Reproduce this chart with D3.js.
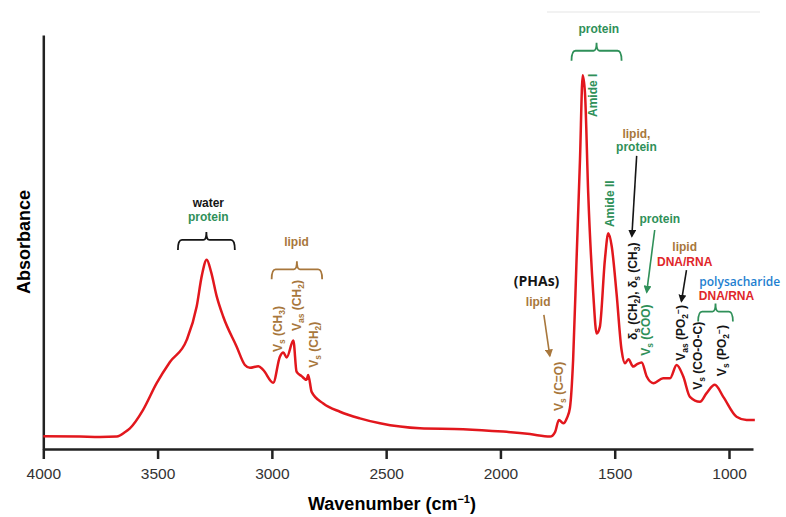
<html>
<script src="https://d3js.org/d3.v7.min.js"></script>
<style>
  body { margin: 0; background: #fff; }
  .tick text { font-family: "Liberation Sans", Arial, sans-serif; font-size: 15.5px; fill: #333; }
  .ann { font-family: "Liberation Sans", Arial, sans-serif; font-weight: bold; font-size: 12px; }
</style>
<body>
<script>
// FTIR spectrum (wavenumber in cm-1, absorbance in arbitrary units)
const wavenumbers = [4000, 3840, 3752, 3678, 3642, 3621, 3564, 3504, 3446, 3373, 3329, 3306, 3285, 3266, 3241, 3213,
  3154, 3118, 3096, 3059, 3038, 2994, 2965, 2950, 2935, 2906, 2892, 2870, 2848, 2841, 2826, 2775, 2702, 2615,
  2527, 2352, 2163, 1988, 1871, 1783, 1761, 1744, 1725, 1709, 1696, 1682, 1667, 1652, 1640, 1630, 1616, 1594,
  1579, 1565, 1543, 1528, 1513, 1492, 1470, 1455, 1440, 1419, 1402, 1382, 1360, 1331, 1288, 1258, 1229, 1200,
  1171, 1127, 1098, 1062, 1025, 967, 923, 887];
const absorbance = [0.031, 0.030, 0.029, 0.030, 0.041, 0.050, 0.094, 0.159, 0.210, 0.263, 0.344, 0.420, 0.457, 0.428, 0.368, 0.320,
  0.247, 0.203, 0.196, 0.200, 0.191, 0.160, 0.223, 0.233, 0.221, 0.262, 0.187, 0.176, 0.167, 0.179, 0.138, 0.110, 0.090, 0.074,
  0.062, 0.050, 0.048, 0.042, 0.036, 0.030, 0.041, 0.070, 0.062, 0.075, 0.099, 0.215, 0.457, 0.698, 0.903, 0.859, 0.618, 0.376,
  0.279, 0.295, 0.457, 0.521, 0.489, 0.376, 0.239, 0.207, 0.217, 0.199, 0.205, 0.209, 0.175, 0.159, 0.171, 0.171, 0.203, 0.175,
  0.126, 0.114, 0.135, 0.155, 0.126, 0.078, 0.070, 0.070];
const xTicks = [4000, 3500, 3000, 2500, 2000, 1500, 1000];

// annotations: wavenumber / absorbance anchor, "_" = subscript char, "^" = superscript char
const textLabels = [
  {t: "water", w: 3278, a: 0.585, c: "black"},
  {t: "protein", w: 3278, a: 0.551, c: "green"},
  {t: "lipid", w: 2892, a: 0.490, c: "brown"},
  {t: "(PHAs)", w: 1842, a: 0.394, c: "black", f: "phas"},
  {t: "lipid", w: 1835, a: 0.345, c: "brown"},
  {t: "protein", w: 1570, a: 1.005, c: "green"},
  {t: "lipid,", w: 1405, a: 0.752, c: "brown"},
  {t: "protein", w: 1405, a: 0.720, c: "green"},
  {t: "protein", w: 1303, a: 0.547, c: "green"},
  {t: "lipid", w: 1194, a: 0.478, c: "brown"},
  {t: "DNA/RNA", w: 1194, a: 0.443, c: "red"},
  {t: "polysacharide", w: 953, a: 0.394, c: "blue", f: "poly"},
  {t: "DNA/RNA", w: 1011, a: 0.359, c: "red"}
];
const bandLabels = [
  {t: "V_s (CH_3)", w: 2956, a: 0.234, c: "brown"},
  {t: "V_a_s (CH_2)", w: 2873, a: 0.285, c: "brown"},
  {t: "V_s (CH_2)", w: 2798, a: 0.196, c: "brown"},
  {t: "V_s (C=O)", w: 1727, a: 0.092, c: "brown"},
  {t: "Amide I", w: 1579, a: 0.802, c: "green"},
  {t: "Amide II", w: 1504, a: 0.536, c: "green"},
  {t: "δ_s (CH_2), δ_s (CH_3)", w: 1404, a: 0.263, c: "black"},
  {t: "V_s (COO)", w: 1347, a: 0.225, c: "green"},
  {t: "V_a_s (PO_2^−)", w: 1194, a: 0.213, c: "black"},
  {t: "V_s (CO-O-C)", w: 1119, a: 0.143, c: "black"},
  {t: "V_s (PO_2^−)", w: 1014, a: 0.176, c: "black"}
];
const brackets = [
  {w1: 3411, w2: 3162, a: 0.505, c: "black"},
  {w1: 3001, w2: 2780, a: 0.434, c: "brown"},
  {w1: 1689, w2: 1470, a: 0.962, c: "green"},
  {w1: 1135, w2: 983, a: 0.332, c: "green"}
];
const arrows = [
  {w1: 1810, a1: 0.324, w2: 1784, a2: 0.225, c: "brown"},
  {w1: 1404, a1: 0.708, w2: 1425, a2: 0.514, c: "black"},
  {w1: 1325, a1: 0.529, w2: 1360, a2: 0.379, c: "green"},
  {w1: 1186, a1: 0.432, w2: 1208, a2: 0.357, c: "black"}
];

const colors = {black: "#151515", green: "#2f9059", brown: "#a8773c", red: "#e0262a", blue: "#1e7fd0"};

let width = 786, height = 517;
let svg = d3.select("body").append("svg").attr("width", width).attr("height", height);

let x = d3.scaleLinear().domain([4000, 895]).range([43.3, 753]);
let y = d3.scaleLinear().domain([0, 1]).range([449, 35]);

// faint scan border at the top
svg.append("line").attr("x1", 547).attr("x2", 760).attr("y1", 12).attr("y2", 12)
  .attr("stroke", "#eeeeee").attr("stroke-width", 1.5);

// axes
let xAxis = d3.axisBottom(x).tickValues(xTicks).tickSize(10).tickPadding(9).tickSizeOuter(0).tickFormat(d3.format("d"));
let gx = svg.append("g").attr("transform", `translate(0,${y(0)})`).call(xAxis);
gx.select(".domain").attr("stroke", "#222").attr("stroke-width", 2.5);
gx.selectAll(".tick line").attr("stroke", "#222").attr("stroke-width", 2.5);

let gy = svg.append("g").attr("transform", `translate(${x(4000)},0)`)
  .call(d3.axisLeft(y).tickValues([]).tickSizeOuter(0));
gy.select(".domain").attr("stroke", "#222").attr("stroke-width", 2.5);

svg.append("text").attr("transform", `translate(24,${(y(0) + y(1)) / 2}) rotate(-90)`)
  .attr("text-anchor", "middle").attr("dy", "0.35em")
  .style("font-family", "Liberation Sans, Arial, sans-serif").style("font-weight", "bold").style("font-size", "18px")
  .text("Absorbance");

let xt = svg.append("text").attr("x", 392).attr("y", 510).attr("text-anchor", "middle")
  .style("font-family", "Liberation Sans, Arial, sans-serif").style("font-weight", "bold").style("font-size", "18px");
xt.append("tspan").text("Wavenumber (cm");
xt.append("tspan").attr("dy", -7).style("font-size", "11px").text("−1");
xt.append("tspan").attr("dy", 7).text(")");

// spectrum
let data = wavenumbers.map((w, i) => ({w: w, a: absorbance[i]}));
svg.append("path").datum(data)
  .attr("fill", "none").attr("stroke", "#e2171d").attr("stroke-width", 2.5).attr("stroke-linejoin", "round")
  .attr("d", d3.line().x(d => x(d.w)).y(d => y(d.a)).curve(d3.curveMonotoneX));

// arrow heads
let defs = svg.append("defs");
Object.keys(colors).forEach(k => {
  defs.append("marker").attr("id", "arr-" + k).attr("viewBox", "0 0 10 10").attr("refX", 8).attr("refY", 5)
    .attr("markerWidth", 8).attr("markerHeight", 8).attr("orient", "auto").attr("markerUnits", "userSpaceOnUse")
    .append("path").attr("d", "M0,0 L10,5 L0,10 Z").attr("fill", colors[k]);
});
arrows.forEach(d => {
  svg.append("line").attr("x1", x(d.w1)).attr("y1", y(d.a1)).attr("x2", x(d.w2)).attr("y2", y(d.a2))
    .attr("stroke", colors[d.c]).attr("stroke-width", 1.6).attr("marker-end", `url(#arr-${d.c})`);
});

// curly-ish brackets
brackets.forEach(d => {
  let x1 = x(d.w1), x2 = x(d.w2), yy = y(d.a), cx = (x1 + x2) / 2;
  let p = `M${x1},${yy + 10} Q${x1},${yy} ${x1 + 4},${yy} H${cx - 3} Q${cx},${yy} ${cx},${yy - 8}` +
          ` Q${cx},${yy} ${cx + 3},${yy} H${x2 - 4} Q${x2},${yy} ${x2},${yy + 10}`;
  svg.append("path").attr("d", p).attr("fill", "none").attr("stroke", colors[d.c]).attr("stroke-width", 1.8);
});

function richText(sel, str) {
  let shift = 0, buf = "";
  let parts = [];
  for (let i = 0; i < str.length; i++) {
    let ch = str[i];
    if ((ch === "_" || ch === "^") && i + 1 < str.length) {
      if (buf) { parts.push({t: buf, s: 0}); buf = ""; }
      parts.push({t: str[i + 1], s: ch === "_" ? 3 : -4});
      i++;
    } else buf += ch;
  }
  if (buf) parts.push({t: buf, s: 0});
  parts.forEach(p => {
    let ts = sel.append("tspan").attr("dy", p.s - shift).text(p.t);
    if (p.s !== 0) ts.style("font-size", "8.5px");
    shift = p.s;
  });
}

textLabels.forEach(d => {
  let t = svg.append("text").attr("class", "ann").attr("x", x(d.w)).attr("y", y(d.a))
    .attr("text-anchor", "middle").attr("fill", colors[d.c]).text(d.t);
  if (d.f === "phas") t.style("font-family", "Open Sans, sans-serif").style("font-size", "14px");
  if (d.f === "poly") t.style("font-family", "Open Sans, sans-serif").style("font-size", "12px").style("font-weight", 600);
});

bandLabels.forEach(d => {
  let t = svg.append("text").attr("class", "ann")
    .attr("transform", `translate(${x(d.w)},${y(d.a)}) rotate(-90)`)
    .attr("fill", colors[d.c]);
  richText(t, d.t);
});
</script>
</body>
</html>
